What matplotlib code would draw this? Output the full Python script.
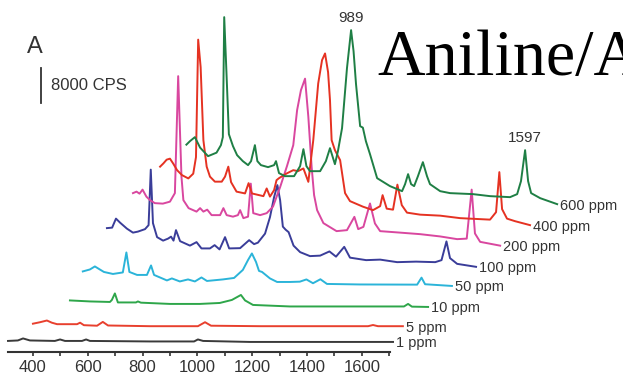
import numpy as np
import matplotlib
matplotlib.use("Agg")
import matplotlib.pyplot as plt

# ---------------- data (Raman shift in cm-1, intensity in CPS) ----------------
conc_labels = ["1 ppm", "5 ppm", "10 ppm", "50 ppm", "100 ppm", "200 ppm", "400 ppm", "600 ppm"]

wn_1 = [309, 345, 364, 389, 480, 499, 517, 579, 594, 608, 827, 988, 1002, 1021, 1192, 1714]
cps_1 = [230, 340, 800, 340, 230, 570, 230, 230, 570, 230, 110, 110, 570, 230, 0, 0]

wn_5 = [380, 406, 431, 449, 468, 541, 552, 566, 614, 635, 654, 807, 982, 1008, 1030, 1209,
        1603, 1621, 1639, 1730]
cps_5 = [570, 910, 1300, 800, 460, 460, 800, 230, 110, 980, 160, 0, 0, 910, 110, 0,
         0, 270, 0, 0]

wn_10 = [380, 453, 526, 533, 544, 555, 621, 628, 639, 745, 854, 927, 971, 1004, 1019, 1048,
         1183, 1402, 1599, 1614, 1628, 1687]
cps_10 = [1490, 1260, 1140, 1600, 3090, 1030, 1030, 1260, 980, 690, 690, 910, 1600, 2740, 1490, 460,
          110, 110, 110, 690, 70, 0]

wn_50 = [377, 403, 421, 439, 454, 487, 523, 536, 547, 575, 611, 626, 637, 684, 702, 731, 761, 786,
         810, 830, 888, 929, 961, 980, 994, 1009, 1020, 1031, 1060, 1086, 1133, 1169, 1193, 1217,
         1244, 1268, 1388, 1597, 1613, 1626, 1724]
cps_50 = [3320, 3770, 4460, 3770, 3200, 2740, 3090, 7660, 3200, 2520, 2520, 4690, 2520, 1260, 1720,
          1030, 1490, 1030, 1940, 1140, 1490, 1830, 3660, 5940, 7430, 5490, 3430, 3200, 1720, 910,
          910, 980, 1490, 620, 1530, 460, 340, 300, 1900, 390, 0]

wn_100 = [380, 399, 413, 428, 453, 475, 493, 519, 532, 540, 548, 563, 585, 603, 614, 623, 632, 647,
          683, 707, 725, 756, 773, 791, 811, 826, 866, 899, 917, 931, 957, 975, 990, 1002, 1012,
          1022, 1032, 1043, 1061, 1085, 1121, 1158, 1192, 1216, 1246, 1267, 1326, 1377, 1439, 1508,
          1578, 1601, 1619, 1632, 1658, 1727]
cps_100 = [8920, 9030, 11090, 10170, 8800, 7890, 8120, 8690, 9600, 22290, 10060, 6860, 6060, 6520,
           6970, 6060, 8460, 5940, 4920, 5720, 4280, 4280, 5030, 4050, 6860, 4280, 4340, 6170, 5260,
           5600, 7660, 11430, 16000, 18750, 15320, 9260, 8570, 8000, 4920, 3430, 2520, 2630, 3590,
           2400, 4640, 2170, 1600, 1720, 1140, 1260, 1140, 1600, 5880, 2060, 750, 70]

wn_200 = [380, 393, 404, 415, 429, 442, 460, 489, 515, 533, 545, 557, 564, 583, 612, 625, 637, 651,
          667, 698, 710, 722, 745, 763, 771, 783, 800, 810, 819, 844, 868, 891, 917, 942, 965, 979,
          993, 1008, 1020, 1032, 1041, 1052, 1075, 1123, 1161, 1188, 1202, 1221, 1245, 1263, 1282,
          1355, 1428, 1501, 1563, 1598, 1616, 1628, 1647, 1720]
cps_200 = [12120, 12460, 12000, 12920, 11320, 10520, 9830, 9720, 10170, 12120, 38860, 15890, 10520,
           8690, 7890, 8690, 7890, 8340, 7090, 7090, 8690, 7090, 6740, 7090, 8230, 6400, 6740, 14290,
           7540, 7090, 7540, 9030, 13490, 18290, 23090, 31090, 35660, 38290, 29560, 18130, 11660,
           8230, 5260, 3430, 3660, 6700, 3890, 4410, 9760, 5190, 3430, 3090, 2740, 2220, 1600, 1720,
           12920, 2900, 980, 110]

wn_400 = [379, 391, 403, 415, 427, 441, 459, 482, 500, 510, 518, 527, 537, 549, 561, 579, 604, 616,
          628, 638, 658, 689, 702, 714, 756, 768, 780, 795, 804, 813, 841, 865, 882, 902, 920, 938,
          956, 970, 981, 992, 999, 1005, 1017, 1036, 1054, 1072, 1119, 1156, 1182, 1191, 1206, 1229,
          1245, 1261, 1280, 1328, 1401, 1474, 1583, 1605, 1617, 1627, 1645, 1674, 1729]
cps_400 = [13370, 14110, 14970, 15200, 14060, 12570, 11430, 10680, 11770, 15550, 42410, 36120,
           19430, 13370, 11090, 9940, 9940, 11090, 13370, 9830, 7660, 7250, 9600, 7250, 6630, 8390,
           6520, 8000, 10290, 10740, 11820, 12570, 12340, 12960, 9900, 19430, 32390, 37720, 39250,
           34980, 28580, 19430, 17150, 14860, 7320, 5490, 4230, 3430, 4340, 6860, 3770, 3540, 9260,
           4570, 2860, 2400, 2170, 1600, 1260, 2970, 12120, 3660, 1490, 910, 0]

wn_600 = [375, 388, 406, 425, 454, 485, 501, 508, 513, 521, 530, 545, 560, 581, 600, 611, 625, 634,
          647, 673, 695, 702, 713, 735, 768, 790, 802, 813, 826, 863, 884, 899, 917, 928, 943, 961,
          976, 985, 994, 1009, 1019, 1030, 1045, 1071, 1118, 1162, 1173, 1184, 1195, 1206, 1220,
          1238, 1253, 1264, 1301, 1337, 1421, 1483, 1556, 1582, 1596, 1611, 1622, 1633, 1666, 1728]
cps_600 = [13600, 14400, 15320, 12920, 10970, 11770, 13490, 15320, 42750, 30400, 16000, 13260,
           11200, 9830, 8920, 9830, 13490, 9830, 8920, 8460, 8920, 9830, 7090, 6400, 6400, 8690,
           12570, 8690, 7540, 7540, 9830, 12800, 9140, 12120, 17370, 31090, 39780, 34980, 27430,
           17830, 17490, 14400, 11430, 5940, 4120, 2970, 4570, 6860, 4570, 4120, 6400, 9600, 6400,
           4570, 2970, 2520, 2290, 1830, 1600, 2290, 5260, 12340, 5260, 2520, 1370, 0]

peak_labels = ["989", "1597"]
scale_bar_cps = 8000
scale_bar_label = "8000 CPS"

tick_values = list(range(400, 1800, 100))
tick_labels = [str(v) if v % 200 == 0 and v < 1700 else "" for v in tick_values]

# ---------------- layout / style ----------------
spectra_wn = [wn_1, wn_5, wn_10, wn_50, wn_100, wn_200, wn_400, wn_600]
spectra_cps = [cps_1, cps_5, cps_10, cps_50, cps_100, cps_200, cps_400, cps_600]
x_shift = [0, 20, 155, 205, 290, 385, 485, 585]            # waterfall horizontal offset (cm-1)
y_offset = [2300, 5900, 10300, 15100, 19400, 24200, 29000, 33800]  # waterfall vertical offset
colors = ["#3a3a3a", "#e8402e", "#2ea64a", "#2bb4d9", "#3a3d99", "#d9479f", "#e53222", "#1f7f45"]
txt_color = "#333333"

W, H = 623, 376
fig = plt.figure(figsize=(W / 100, H / 100), dpi=100)
fig.patch.set_facecolor("white")
ax = fig.add_axes([8 / W, 24 / H, 382 / W, 352 / H])
ax.set_xlim(309, 1703)
ax.set_ylim(0, 80470)

for wn, cps, dx, dy, col, lab in zip(spectra_wn, spectra_cps, x_shift, y_offset, colors, conc_labels):
    x = np.asarray(wn, float) + dx
    y = np.asarray(cps, float) + dy
    ax.plot(x, y, color=col, lw=1.4, clip_on=False, solid_joinstyle="round")
    ax.annotate(lab, xy=(x[-1], y[-1]), xytext=(3, 0), textcoords="offset pixels",
                ha="left", va="center_baseline", fontsize=10.5, color=txt_color,
                family="Liberation Sans", annotation_clip=False)

# peak labels on top spectrum
x6 = np.asarray(wn_600, float) + x_shift[-1]
y6 = np.asarray(cps_600, float) + y_offset[-1]
w6 = np.asarray(wn_600)
for lab, lo, hi in zip(peak_labels, [900, 1500], [1100, 1700]):
    m = (w6 > lo) & (w6 < hi)
    i = np.where(m)[0][np.argmax(y6[m])]
    ax.annotate(lab, xy=(x6[i], y6[i]), xytext=(0, 5), textcoords="offset pixels",
                ha="center", va="bottom", fontsize=11, color=txt_color,
                family="Liberation Sans", annotation_clip=False)

# scale bar
sb_x, sb_y = 429, 56900
ax.plot([sb_x, sb_x], [sb_y, sb_y + scale_bar_cps], color=txt_color, lw=1.3, clip_on=False)
ax.annotate(scale_bar_label, xy=(sb_x, sb_y + scale_bar_cps / 2), xytext=(10, 0),
            textcoords="offset pixels", ha="left", va="center", fontsize=12,
            color=txt_color, family="Liberation Sans", annotation_clip=False)

# axes styling
for s in ["left", "top", "right"]:
    ax.spines[s].set_visible(False)
ax.spines["bottom"].set_linewidth(1.5)
ax.spines["bottom"].set_color(txt_color)
ax.set_yticks([])
ax.set_xticks(tick_values)
ax.set_xticklabels(tick_labels)
ax.tick_params(axis="x", direction="out", length=3, width=1.2, color=txt_color,
               labelcolor=txt_color, labelsize=12, pad=2.5)
for t in ax.get_xticklabels():
    t.set_family("Liberation Sans")
ax.patch.set_alpha(0)

fig.text(27 / W, 1 - 53 / H, "A", fontsize=17, color=txt_color, family="Liberation Sans",
         ha="left", va="baseline")
fig.text(377 / W, 1 - 75 / H, "Aniline/A", fontsize=47.5, color="black",
         family="Liberation Serif", ha="left", va="baseline")

fig.savefig("out.png", dpi=100)
